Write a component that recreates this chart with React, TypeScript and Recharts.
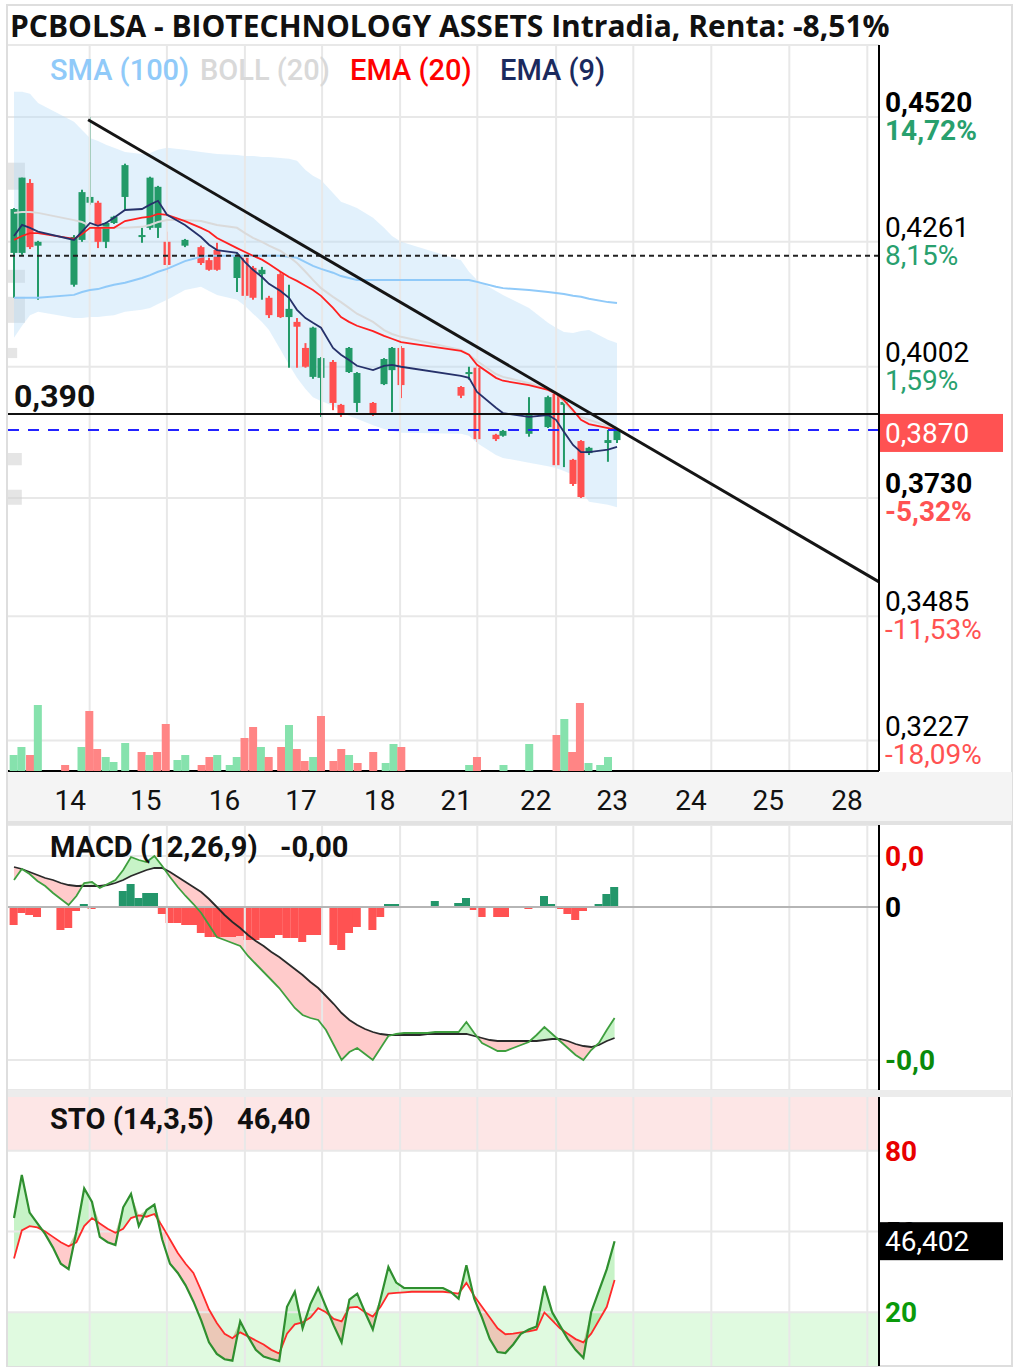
import React from 'react';
import { ComposedChart, XAxis, YAxis, CartesianGrid, Line, Area, Bar, ReferenceLine, ReferenceArea } from 'recharts';

// ---------- DATA ----------
// candles: [slot, open, high, low, close]
const candles: number[][] = [
  [0.00, 0.4238, 0.4331, 0.4145, 0.4329], [1.03, 0.4238, 0.4394, 0.4234, 0.4394], [2.05, 0.4383, 0.4391, 0.4246, 0.4250],
  [3.08, 0.4253, 0.4263, 0.4141, 0.4261], [7.69, 0.4172, 0.4275, 0.4168, 0.4271], [8.72, 0.4265, 0.4369, 0.4261, 0.4364],
  [9.74, 0.4342, 0.4520, 0.4338, 0.4354], [10.77, 0.4342, 0.4346, 0.4248, 0.4261], [11.79, 0.4261, 0.4302, 0.4248, 0.4300],
  [12.82, 0.4300, 0.4315, 0.4298, 0.4313], [14.23, 0.4354, 0.4423, 0.4327, 0.4420], [16.41, 0.4271, 0.4290, 0.4259, 0.4275],
  [17.44, 0.4290, 0.4396, 0.4286, 0.4394], [18.46, 0.4290, 0.4377, 0.4269, 0.4375], [19.62, 0.4261, 0.4282, 0.4197, 0.4213],
  [21.92, 0.4253, 0.4267, 0.4250, 0.4265], [23.97, 0.4250, 0.4253, 0.4213, 0.4217], [25.00, 0.4223, 0.4228, 0.4201, 0.4203],
  [26.03, 0.4244, 0.4259, 0.4201, 0.4203], [28.59, 0.4186, 0.4238, 0.4157, 0.4234], [29.62, 0.4228, 0.4232, 0.4141, 0.4149],
  [30.64, 0.4207, 0.4211, 0.4141, 0.4145], [31.79, 0.4194, 0.4209, 0.4141, 0.4203], [32.69, 0.4145, 0.4149, 0.4103, 0.4109],
  [34.17, 0.4194, 0.4199, 0.4103, 0.4105], [35.26, 0.4105, 0.4172, 0.4000, 0.4122], [36.28, 0.4095, 0.4103, 0.4000, 0.4085],
  [37.37, 0.4041, 0.4051, 0.4000, 0.4002], [38.33, 0.3981, 0.4085, 0.3977, 0.4083], [39.36, 0.3979, 0.4022, 0.3898, 0.4020],
  [40.90, 0.4012, 0.4016, 0.3912, 0.3927], [41.92, 0.3923, 0.3925, 0.3898, 0.3906], [42.95, 0.3991, 0.4043, 0.3989, 0.4041],
  [43.97, 0.3927, 0.3991, 0.3908, 0.3989], [46.03, 0.3927, 0.3929, 0.3900, 0.3906], [47.44, 0.3966, 0.4020, 0.3964, 0.4018],
  [48.46, 0.3995, 0.4043, 0.3908, 0.4041], [49.62, 0.4041, 0.4045, 0.3937, 0.3964], [57.31, 0.3960, 0.3962, 0.3937, 0.3942],
  [58.33, 0.3987, 0.4002, 0.3975, 0.3991], [59.36, 0.4000, 0.4004, 0.3846, 0.3852], [61.79, 0.3861, 0.3863, 0.3848, 0.3852],
  [62.69, 0.3859, 0.3871, 0.3857, 0.3869], [66.03, 0.3863, 0.3939, 0.3857, 0.3906], [68.46, 0.3877, 0.3942, 0.3875, 0.3939],
  [69.49, 0.3946, 0.3950, 0.3794, 0.3798], [70.51, 0.3923, 0.3933, 0.3794, 0.3929], [71.67, 0.3809, 0.3811, 0.3755, 0.3759],
  [72.69, 0.3848, 0.3850, 0.3730, 0.3732], [73.72, 0.3823, 0.3836, 0.3819, 0.3834], [76.15, 0.3844, 0.3871, 0.3805, 0.3850],
  [77.31, 0.3850, 0.3873, 0.3844, 0.3870],
];

const ema9 = [0.4273, 0.4296, 0.4290, 0.4282, 0.4265, 0.4282, 0.4300, 0.4294, 0.4300, 0.4311, 0.4327, 0.4329, 0.4338, 0.4346, 0.4317, 0.4296, 0.4271, 0.4255, 0.4244, 0.4238, 0.4219, 0.4203, 0.4188, 0.4174, 0.4159, 0.4145, 0.4120, 0.4103, 0.4093, 0.4083, 0.4041, 0.4027, 0.4016, 0.4004, 0.3995, 0.4004, 0.4006, 0.4002, 0.3983, 0.3979, 0.3950, 0.3917, 0.3906, 0.3898, 0.3902, 0.3892, 0.3867, 0.3840, 0.3825, 0.3825, 0.3830, 0.3836];
const ema20 = [0.4265, 0.4273, 0.4279, 0.4279, 0.4267, 0.4277, 0.4290, 0.4290, 0.4290, 0.4290, 0.4304, 0.4311, 0.4313, 0.4319, 0.4317, 0.4304, 0.4290, 0.4282, 0.4269, 0.4248, 0.4240, 0.4232, 0.4224, 0.4215, 0.4199, 0.4188, 0.4180, 0.4170, 0.4161, 0.4149, 0.4124, 0.4105, 0.4095, 0.4087, 0.4076, 0.4066, 0.4060, 0.4053, 0.4035, 0.4027, 0.4006, 0.3979, 0.3973, 0.3964, 0.3954, 0.3946, 0.3933, 0.3912, 0.3892, 0.3883, 0.3875, 0.3871];
const bollMid = [0.4321, 0.4323, 0.4323, 0.4321, 0.4306, 0.4302, 0.4294, 0.4292, 0.4290, 0.4290, 0.4290, 0.4292, 0.4296, 0.4302, 0.4306, 0.4306, 0.4304, 0.4300, 0.4296, 0.4290, 0.4279, 0.4269, 0.4261, 0.4253, 0.4242, 0.4230, 0.4217, 0.4199, 0.4182, 0.4165, 0.4147, 0.4136, 0.4124, 0.4112, 0.4095, 0.4078, 0.4070, 0.4064, 0.4037, 0.4027, 0.4014, 0.3987, 0.3981, 0.3968, 0.3956, 0.3948, 0.3929, 0.3908, 0.3898, 0.3892, 0.3879, 0.3875];
const sma100 = [0.4145, 0.4145, 0.4145, 0.4145, 0.4151, 0.4157, 0.4161, 0.4163, 0.4168, 0.4172, 0.4176, 0.4186, 0.4192, 0.4199, 0.4205, 0.4221, 0.4230, 0.4232, 0.4232, 0.4232, 0.4232, 0.4232, 0.4232, 0.4232, 0.4232, 0.4230, 0.4228, 0.4219, 0.4211, 0.4205, 0.4197, 0.4190, 0.4186, 0.4182, 0.4182, 0.4182, 0.4182, 0.4182, 0.4182, 0.4182, 0.4178, 0.4168, 0.4165, 0.4161, 0.4157, 0.4155, 0.4153, 0.4149, 0.4147, 0.4143, 0.4136, 0.4134];
const bbUpper = [0.4572, 0.4572, 0.4568, 0.4549, 0.4510, 0.4493, 0.4476, 0.4470, 0.4462, 0.4456, 0.4447, 0.4443, 0.4445, 0.4452, 0.4456, 0.4452, 0.4447, 0.4445, 0.4443, 0.4441, 0.4439, 0.4439, 0.4437, 0.4437, 0.4435, 0.4433, 0.4429, 0.4410, 0.4398, 0.4389, 0.4362, 0.4344, 0.4338, 0.4331, 0.4311, 0.4290, 0.4273, 0.4261, 0.4223, 0.4199, 0.4182, 0.4159, 0.4151, 0.4124, 0.4093, 0.4083, 0.4074, 0.4072, 0.4076, 0.4078, 0.4058, 0.4051];
const bbLower = [0.4062, 0.4087, 0.4109, 0.4116, 0.4103, 0.4103, 0.4105, 0.4105, 0.4107, 0.4109, 0.4116, 0.4120, 0.4124, 0.4132, 0.4141, 0.4161, 0.4168, 0.4159, 0.4151, 0.4141, 0.4128, 0.4112, 0.4095, 0.4078, 0.4037, 0.4006, 0.3979, 0.3956, 0.3939, 0.3931, 0.3921, 0.3910, 0.3900, 0.3894, 0.3881, 0.3873, 0.3869, 0.3865, 0.3863, 0.3859, 0.3844, 0.3819, 0.3813, 0.3803, 0.3796, 0.3792, 0.3786, 0.3778, 0.3747, 0.3722, 0.3716, 0.3711];

// volume: [slot, volume, up(1)/down(0)]
const volumes: number[][] = [
  [0.0, 8000, 1], [1.0, 12000, 1], [2.1, 8000, 0], [3.1, 33000, 1], [6.6, 3000, 0], [8.7, 12000, 1], [9.7, 30000, 0],
  [10.7, 11000, 0], [11.8, 7000, 1], [12.8, 4500, 1], [14.3, 14000, 1], [16.4, 9500, 0], [17.4, 8000, 1], [18.4, 9500, 0],
  [19.5, 23500, 0], [21.0, 5500, 1], [22.0, 8000, 1], [24.1, 3000, 0], [25.1, 7000, 0], [26.1, 8000, 1], [27.7, 3000, 1],
  [28.6, 7000, 1], [29.6, 16500, 0], [30.7, 22000, 0], [31.7, 12000, 1], [32.7, 7000, 0], [34.3, 12000, 0], [35.3, 23000, 1],
  [36.3, 11000, 0], [37.3, 5000, 0], [38.4, 7000, 1], [39.4, 27500, 0], [41.0, 5000, 0], [42.0, 11000, 0], [43.0, 8000, 1],
  [44.1, 4000, 0], [46.1, 9500, 0], [47.7, 4000, 1], [48.7, 13500, 1], [49.7, 12000, 0], [58.4, 3000, 1], [59.4, 7000, 0],
  [62.8, 3000, 1], [66.1, 13500, 1], [69.6, 18000, 0], [70.6, 26000, 1], [71.6, 9500, 0], [72.6, 34000, 0], [73.7, 4000, 1],
  [75.2, 3000, 1], [76.2, 7000, 1],
];

// MACD (12,26,9) per slot 0..77
const macdLine = [0.0027, 0.0038, 0.0033, 0.0026, 0.0021, 0.0014, 0.0008, 0.0002, 0.0011, 0.0024, 0.0025, 0.0019, 0.0023, 0.0027, 0.0037, 0.0050, 0.0047, 0.0045, 0.0051, 0.0041, 0.0030, 0.0020, 0.0011, 0.0003, -0.0006, -0.0018, -0.0030, -0.0033, -0.0036, -0.0039, -0.0049, -0.0057, -0.0065, -0.0073, -0.0081, -0.0091, -0.0101, -0.0108, -0.0111, -0.0113, -0.0123, -0.0138, -0.0153, -0.0145, -0.0141, -0.0147, -0.0153, -0.0141, -0.0129, -0.0127, -0.0126, -0.0126, -0.0126, -0.0126, -0.0125, -0.0125, -0.0125, -0.0125, -0.0115, -0.0126, -0.0136, -0.0140, -0.0144, -0.0144, -0.0141, -0.0138, -0.0135, -0.0128, -0.0120, -0.0127, -0.0134, -0.0141, -0.0148, -0.0153, -0.0143, -0.0136, -0.0123, -0.0111];
const macdSignal = [0.0040, 0.0038, 0.0035, 0.0032, 0.0029, 0.0027, 0.0024, 0.0022, 0.0021, 0.0021, 0.0021, 0.0021, 0.0022, 0.0024, 0.0027, 0.0031, 0.0034, 0.0037, 0.0039, 0.0039, 0.0035, 0.0030, 0.0025, 0.0020, 0.0015, 0.0008, 0.0000, -0.0008, -0.0015, -0.0021, -0.0028, -0.0034, -0.0039, -0.0045, -0.0050, -0.0056, -0.0062, -0.0068, -0.0075, -0.0081, -0.0089, -0.0097, -0.0106, -0.0113, -0.0118, -0.0122, -0.0125, -0.0127, -0.0128, -0.0128, -0.0128, -0.0128, -0.0128, -0.0127, -0.0127, -0.0127, -0.0127, -0.0127, -0.0127, -0.0129, -0.0131, -0.0133, -0.0134, -0.0134, -0.0134, -0.0134, -0.0134, -0.0134, -0.0133, -0.0132, -0.0132, -0.0134, -0.0137, -0.0139, -0.0140, -0.0138, -0.0134, -0.0131];
const macdHist: (number | null)[] = [-0.0018, -0.0006, -0.0008, -0.0010, null, null, -0.0023, -0.0021, -0.0004, 0.0003, -0.0002, null, null, null, 0.0016, 0.0023, 0.0009, 0.0014, 0.0014, -0.0007, -0.0016, -0.0016, -0.0018, -0.0018, -0.0026, -0.0030, -0.0030, -0.0030, -0.0030, -0.0029, -0.0033, -0.0033, -0.0031, -0.0031, -0.0028, -0.0031, -0.0031, -0.0035, -0.0028, -0.0028, null, -0.0038, -0.0043, -0.0026, -0.0020, null, -0.0023, -0.0010, 0.0003, 0.0003, null, null, null, null, 0.0006, null, null, 0.0004, 0.0009, -0.0003, -0.0010, null, -0.0010, -0.0010, null, null, -0.0002, null, 0.0011, 0.0003, -0.0002, -0.0007, -0.0013, -0.0004, null, 0.0003, 0.0013, 0.0020];

// STO (14,3,5) per slot 0..77
const stoK = [55, 71, 57, 53, 49, 44, 38, 36, 50, 66, 61, 48, 46, 45, 59, 64, 52, 58, 60, 47, 38, 34.6, 30, 24, 17, 8.8, 4.5, 2.5, 2, 16.6, 11, 6, 3.5, 2.6, 1.8, 22, 27.6, 14, 23, 29, 22, 15, 8.8, 24.7, 26.9, 20, 13.6, 25, 36.8, 31, 29, 29, 29, 29, 29, 29, 27.5, 25, 37.5, 25, 18, 10, 5.2, 4.8, 8, 12, 13.6, 14.7, 29.8, 20, 15, 10, 6, 3, 20, 28, 36, 46.4];
const stoD = [40, 50.4, 52, 51.5, 50, 48, 46, 44.5, 46, 52, 55, 53, 51, 49.5, 51, 55, 56, 55.5, 56.5, 52, 47, 42, 38, 34.6, 28, 21, 16, 12, 10.3, 12.5, 11, 9.5, 8, 6, 4.6, 12, 15.5, 16.2, 18, 21.5, 20, 17.5, 16.6, 21.7, 22, 20, 18.4, 22, 26.9, 27.2, 27.4, 27.6, 27.6, 27.6, 27.6, 27.6, 27.3, 26.9, 30.9, 26, 22, 18, 14, 11.8, 12, 12.5, 12.9, 13.5, 19.9, 17, 14, 12, 10, 8.8, 12, 17, 22, 32];

// volume-at-price profile blocks: [low, high, length in slots]
const profile: number[][] = [[0.4369, 0.4425, 1.4], [0.4176, 0.4203, 1.4], [0.4093, 0.4147, 1.4], [0.4020, 0.4041, 0.4], [0.3798, 0.3823, 1.0], [0.3716, 0.3747, 1.0]];

// axes
const X_DOMAIN: [number, number] = [-0.77, 110.9];
const dayGrid = [9.7, 19.6, 29.6, 39.5, 49.5, 59.4, 69.5, 79.4, 89.4, 99.4, 109.4];
const dayTicks = [7.2, 16.9, 27.0, 36.8, 46.9, 56.7, 66.9, 76.7, 86.8, 96.7, 106.8];
const dayLabels = ['14', '15', '16', '17', '18', '21', '22', '23', '24', '25', '28'];
const PRICE_DOMAIN: [number, number] = [0.3164, 0.4669];
const priceTicks = [0.452, 0.4261, 0.4002, 0.373, 0.3485, 0.3227];
const priceLabels = ['0,4520', '0,4261', '0,4002', '0,3730', '0,3485', '0,3227'];
const pctLabels = ['14,72%', '8,15%', '1,59%', '-5,32%', '-11,53%', '-18,09%'];
const boldPrice = [0.452, 0.373];
const VOL_DOMAIN: [number, number] = [0, 363000];
const MACD_DOMAIN: [number, number] = [-0.0183, 0.0082];
const macdTicks = [0.0051, 0, -0.0153];
const macdTickLabels = ['0,0', '0', '-0,0'];
const stoLast = 46.402;
const stoLastLabel = '46,402';
const stoTicks = [80, 50, 20, stoLast];
const stoTickLabels = ['80', '50', '20', stoLastLabel];

const lastPrice = 0.3871;
const lastPriceLabel = '0,3870';
const supportLevel = 0.3904;
const supportLabel = '0,390';
const dottedLevel = 0.4232;
const trendLine = [{ x: 9.5, y: 0.4514 }, { x: 110.9, y: 0.3556 }];

// ---------- STYLE ----------
const W = 1019;
const FONT = 'Roboto, "Noto Sans", sans-serif';
const C_UP = '#229a68';
const C_DN = '#ff5050';
const V_UP = '#86e2ad';
const V_DN = '#ff8585';
const GRID = '#e8e8e8';
const TXT_GREEN = '#28a06e';
const TXT_RED = '#ff5252';
const CANDLE_W = 7;
const VOL_W = 8;

const mainData = candles.map((c, i) => ({
  t: c[0], o: c[1], h: c[2], l: c[3], c: c[4],
  range: [c[3], c[2]],
  ema9: ema9[i], ema20: ema20[i], mid: bollMid[i], sma: sma100[i],
  band: [bbLower[i], bbUpper[i]],
}));
const volData = volumes.map((v) => ({ t: v[0], v: v[1], up: v[2] }));
const oscData = macdLine.map((m, k) => ({
  t: k, macd: m, sig: macdSignal[k], hist: macdHist[k],
  macdNeg: [m, Math.max(m, macdSignal[k])],
  macdPos: [macdSignal[k], Math.max(m, macdSignal[k])],
  k: stoK[k], d: stoD[k],
  stoNeg: [stoK[k], Math.max(stoK[k], stoD[k])],
  stoPos: [stoD[k], Math.max(stoK[k], stoD[k])],
}));

const renderCandle = (p: any) => {
  const { x, y, width, height, payload } = p;
  if (!payload || height == null || isNaN(height)) return <g />;
  const { o, h, l, c } = payload;
  const top = Math.min(y, y + height);
  const hh = Math.abs(height);
  const k = hh / (h - l);
  const yO = top + (h - o) * k;
  const yC = top + (h - c) * k;
  const col = c >= o ? C_UP : C_DN;
  const cx = x + width / 2;
  const bt = Math.min(yO, yC);
  const bh = Math.max(Math.abs(yO - yC), 2);
  return (
    <g>
      <line x1={cx} x2={cx} y1={top} y2={top + hh} stroke={col} strokeWidth={2} />
      <rect x={cx - CANDLE_W / 2} y={bt} width={CANDLE_W} height={bh} fill={col} />
    </g>
  );
};

const renderVol = (p: any) => {
  const { x, y, width, height, payload } = p;
  if (!payload || !height) return <g />;
  const cx = x + width / 2;
  return <rect x={cx - VOL_W / 2} y={Math.min(y, y + height)} width={VOL_W} height={Math.abs(height)} fill={payload.up ? V_UP : V_DN} />;
};

const renderHist = (p: any) => {
  const { x, y, width, height, payload } = p;
  if (!payload || payload.hist == null || !height) return <g />;
  const cx = x + width / 2;
  return <rect x={cx - VOL_W / 2} y={Math.min(y, y + height)} width={VOL_W} height={Math.abs(height)} fill={payload.hist >= 0 ? '#23966a' : '#ff5252'} />;
};

const DayTick = (p: any) => {
  const i = dayTicks.indexOf(p.payload.value);
  return <text x={p.x} y={p.y + 39} textAnchor="middle" fontFamily={FONT} fontSize={28} fill="#111">{dayLabels[i]}</text>;
};

const PriceTick = (p: any) => {
  const v = p.payload.value;
  const i = priceTicks.indexOf(v);
  if (i < 0) return <g />;
  const bold = boldPrice.indexOf(v) >= 0;
  const neg = pctLabels[i].startsWith('-');
  return (
    <g>
      <text x={p.x} y={p.y - 5} fontFamily={FONT} fontSize={28} fontWeight={bold ? 700 : 400} fill="#000">{priceLabels[i]}</text>
      <text x={p.x} y={p.y + 23} fontFamily={FONT} fontSize={28} fontWeight={bold ? 700 : 400} fill={neg ? TXT_RED : TXT_GREEN}>{pctLabels[i]}</text>
    </g>
  );
};

const MacdTick = (p: any) => {
  const i = macdTicks.indexOf(p.payload.value);
  if (i < 0) return <g />;
  const col = i === 0 ? '#e80000' : i === 1 ? '#000' : '#0a8a0a';
  return <text x={p.x} y={p.y + 10} fontFamily={FONT} fontSize={28} fontWeight={700} fill={col}>{macdTickLabels[i]}</text>;
};

const StoTick = (p: any) => {
  const v = p.payload.value;
  const i = stoTicks.indexOf(v);
  if (i < 0) return <g />;
  if (v === stoLast) {
    return (
      <g>
        <rect x={p.x - 5} y={p.y - 19} width={123} height={38} fill="#000" />
        <text x={p.x} y={p.y + 10} fontFamily={FONT} fontSize={28} fill="#fff">{stoTickLabels[i]}</text>
      </g>
    );
  }
  const col = i === 0 ? '#e80000' : i === 1 ? '#000' : '#0a9a0a';
  return <text x={p.x} y={p.y + 10} fontFamily={FONT} fontSize={28} fontWeight={700} fill={col}>{stoTickLabels[i]}</text>;
};

const SupportLabel = (p: any) => {
  const vb = p.viewBox || {};
  return <text x={vb.x + 6} y={vb.y - 7} fontFamily={FONT} fontSize={32} fontWeight={700} fill="#111">{supportLabel}</text>;
};

const PriceBox = (p: any) => {
  const vb = p.viewBox || {};
  const x0 = vb.x + vb.width;
  return (
    <g>
      <rect x={x0} y={vb.y - 16} width={124} height={38} fill="#ff5252" />
      <text x={x0 + 6} y={vb.y + 13} fontFamily={FONT} fontSize={28} fill="#fff">{lastPriceLabel}</text>
    </g>
  );
};

const vGrid = (id: string) =>
  dayGrid.map((g) => <ReferenceLine key={'g' + g} x={g} yAxisId={id} stroke={GRID} strokeWidth={2} />);

export default function App() {
  return (
    <div style={{ position: 'absolute', left: 0, top: 0, width: W, height: 1370, background: '#fff', overflow: 'hidden' }}>
      {/* frame / bands */}
      <div style={{ position: 'absolute', left: 6, top: 4, width: 1007, height: 1363, border: '2px solid #dedede', boxSizing: 'border-box' }} />
      <div style={{ position: 'absolute', left: 8, top: 772, width: 1004, height: 49, background: '#f4f4f4' }} />
      <div style={{ position: 'absolute', left: 8, top: 821, width: 1004, height: 4, background: '#e2e2e2' }} />
      <div style={{ position: 'absolute', left: 8, top: 1090, width: 1004, height: 7, background: '#ececec' }} />

      {/* main price panel */}
      <div style={{ position: 'absolute', left: 0, top: 0 }}>
        <ComposedChart width={W} height={820} data={mainData} margin={{ top: 45, right: 0, bottom: 0, left: 8 }}>
          <CartesianGrid vertical={false} stroke={GRID} strokeWidth={2} yAxisId="p" />
          <XAxis dataKey="t" type="number" domain={X_DOMAIN} allowDataOverflow ticks={dayTicks} interval={0} height={49}
            tickLine={false} tickSize={0} tickMargin={0} axisLine={{ stroke: '#000', strokeWidth: 2 }} tick={DayTick} />
          <YAxis yAxisId="p" orientation="right" width={140} domain={PRICE_DOMAIN} allowDataOverflow ticks={priceTicks} interval={0}
            tickLine={false} tickSize={0} tickMargin={6} axisLine={{ stroke: '#000', strokeWidth: 2 }} tick={PriceTick} />
          {vGrid('p')}
          {profile.map((b, i) => (
            <ReferenceArea key={'pr' + i} yAxisId="p" x1={X_DOMAIN[0]} x2={b[2]} y1={b[0]} y2={b[1]} fill="#cfcfcf" fillOpacity={0.55} stroke="none" />
          ))}
          <Area yAxisId="p" dataKey="band" type="linear" stroke="none" fill="#b3d9f7" fillOpacity={0.38} isAnimationActive={false} />
          <Bar yAxisId="p" dataKey="range" barSize={7} shape={renderCandle} isAnimationActive={false} />
          <Line yAxisId="p" dataKey="sma" type="linear" stroke="#90caf9" strokeWidth={2} dot={false} isAnimationActive={false} />
          <Line yAxisId="p" dataKey="mid" type="linear" stroke="#dadada" strokeWidth={2} dot={false} isAnimationActive={false} />
          <Line yAxisId="p" dataKey="ema20" type="linear" stroke="#ff2020" strokeWidth={1.8} dot={false} isAnimationActive={false} />
          <Line yAxisId="p" dataKey="ema9" type="linear" stroke="#26316a" strokeWidth={1.8} dot={false} isAnimationActive={false} />
          <ReferenceLine yAxisId="p" y={dottedLevel} stroke="#222" strokeWidth={2} strokeDasharray="5 4" />
          <ReferenceLine yAxisId="p" y={supportLevel} stroke="#111" strokeWidth={2} label={SupportLabel} />
          <ReferenceLine yAxisId="p" y={lastPrice} stroke="#2323ff" strokeWidth={2} strokeDasharray="11 9" label={PriceBox} />
          <ReferenceLine yAxisId="p" segment={trendLine} stroke="#151515" strokeWidth={3} />
        </ComposedChart>
      </div>

      {/* volume overlay */}
      <div style={{ position: 'absolute', left: 0, top: 0 }}>
        <ComposedChart width={W} height={820} data={volData} margin={{ top: 45, right: 140, bottom: 49, left: 8 }}>
          <XAxis dataKey="t" type="number" domain={X_DOMAIN} allowDataOverflow hide />
          <YAxis yAxisId="v" domain={VOL_DOMAIN} allowDataOverflow hide />
          <Bar yAxisId="v" dataKey="v" barSize={8} shape={renderVol} isAnimationActive={false} />
        </ComposedChart>
      </div>

      {/* MACD panel */}
      <div style={{ position: 'absolute', left: 0, top: 825 }}>
        <ComposedChart width={W} height={265} data={oscData} margin={{ top: 0, right: 0, bottom: 0, left: 8 }}>
          <CartesianGrid vertical={false} stroke={GRID} strokeWidth={2} yAxisId="m" />
          <XAxis dataKey="t" type="number" domain={X_DOMAIN} allowDataOverflow hide />
          <YAxis yAxisId="m" orientation="right" width={140} domain={MACD_DOMAIN} allowDataOverflow ticks={macdTicks} interval={0}
            tickLine={false} tickSize={0} tickMargin={6} axisLine={{ stroke: '#000', strokeWidth: 2 }} tick={MacdTick} />
          {vGrid('m')}
          <ReferenceLine yAxisId="m" y={0} stroke="#b5b5b5" strokeWidth={2} />
          <Bar yAxisId="m" dataKey="hist" barSize={8} shape={renderHist} isAnimationActive={false} />
          <Area yAxisId="m" dataKey="macdNeg" type="linear" stroke="none" fill="#ff6a6a" fillOpacity={0.35} isAnimationActive={false} />
          <Area yAxisId="m" dataKey="macdPos" type="linear" stroke="none" fill="#5fdc5f" fillOpacity={0.35} isAnimationActive={false} />
          <Line yAxisId="m" dataKey="sig" type="linear" stroke="#2a2a2a" strokeWidth={1.8} dot={false} isAnimationActive={false} />
          <Line yAxisId="m" dataKey="macd" type="linear" stroke="#3f9f3f" strokeWidth={1.8} dot={false} isAnimationActive={false} />
        </ComposedChart>
      </div>

      {/* STO panel */}
      <div style={{ position: 'absolute', left: 0, top: 1097 }}>
        <ComposedChart width={W} height={269} data={oscData} margin={{ top: 0, right: 0, bottom: 0, left: 8 }}>
          <XAxis dataKey="t" type="number" domain={X_DOMAIN} allowDataOverflow hide />
          <YAxis yAxisId="s" orientation="right" width={140} domain={[0, 100]} allowDataOverflow ticks={stoTicks} interval={0}
            tickLine={false} tickSize={0} tickMargin={6} axisLine={{ stroke: '#000', strokeWidth: 2 }} tick={StoTick} />
          <ReferenceArea yAxisId="s" y1={80} y2={100} fill="#fde6e6" fillOpacity={1} stroke="none" />
          <ReferenceArea yAxisId="s" y1={0} y2={20} fill="#e0fae0" fillOpacity={1} stroke="none" />
          <ReferenceLine yAxisId="s" y={50} stroke={GRID} strokeWidth={2} />
          <ReferenceLine yAxisId="s" y={80} stroke={GRID} strokeWidth={2} />
          <ReferenceLine yAxisId="s" y={20} stroke={GRID} strokeWidth={2} />
          {vGrid('s')}
          <Area yAxisId="s" dataKey="stoNeg" type="linear" stroke="none" fill="#ff6a6a" fillOpacity={0.35} isAnimationActive={false} />
          <Area yAxisId="s" dataKey="stoPos" type="linear" stroke="none" fill="#5fdc5f" fillOpacity={0.35} isAnimationActive={false} />
          <Line yAxisId="s" dataKey="d" type="linear" stroke="#ff2a2a" strokeWidth={1.8} dot={false} isAnimationActive={false} />
          <Line yAxisId="s" dataKey="k" type="linear" stroke="#2f8f2f" strokeWidth={2.2} dot={false} isAnimationActive={false} />
        </ComposedChart>
      </div>

      {/* titles and legends */}
      <svg width={W} height={1370} style={{ position: 'absolute', left: 0, top: 0, pointerEvents: 'none' }}>
        <text x={10} y={37} fontFamily="'Open Sans', 'Noto Sans', sans-serif" fontWeight={700} fontSize={30} fill="#111">
          PCBOLSA - BIOTECHNOLOGY ASSETS Intradia, Renta: -8,51%
        </text>
        <g fontFamily={FONT} fontSize={29} fontWeight={500}>
          <text x={50} y={80} fill="#90caf9">SMA (100)</text>
          <text x={200} y={80} fill="#d9d9d9">BOLL (20)</text>
          <text x={350} y={80} fill="#ff0000">EMA (20)</text>
          <text x={500} y={80} fill="#1b2a5e">EMA (9)</text>
        </g>
        <g fontFamily={FONT} fontSize={29} fontWeight={700} fill="#111">
          <text x={50} y={857}>MACD (12,26,9)</text>
          <text x={280} y={857}>-0,00</text>
          <text x={50} y={1129}>STO (14,3,5)</text>
          <text x={237} y={1129}>46,40</text>
        </g>
      </svg>
    </div>
  );
}
